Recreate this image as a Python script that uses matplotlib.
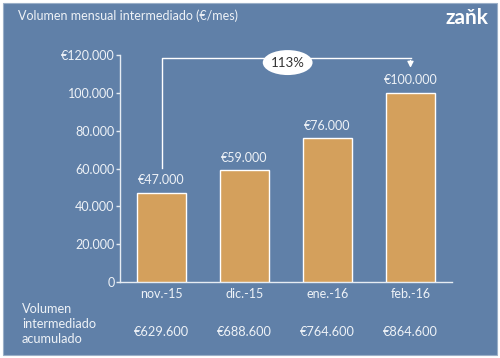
import matplotlib
matplotlib.use("Agg")
import matplotlib.pyplot as plt
from matplotlib.patches import Rectangle, Ellipse

plt.rcParams['font.family'] = ['Lato', 'DejaVu Sans']

months = ["nov.-15", "dic.-15", "ene.-16", "feb.-16"]
monthly = [47000, 59000, 76000, 100000]
monthly_labels = ["€47.000", "€59.000", "€76.000", "€100.000"]
cumulative_labels = ["€629.600", "€688.600", "€764.600", "€864.600"]
yticks = [0, 20000, 40000, 60000, 80000, 100000, 120000]
ytick_labels = ["0", "20.000", "40.000", "60.000", "80.000", "100.000", "€120.000"]
growth_label = "113%"

BG = "#6080A8"
BAR = "#D4A05C"
TXT = "#EEF2F7"

fig = plt.figure(figsize=(5.0, 3.58), dpi=100)
fig.patch.set_facecolor("white")
fig.patches.append(Rectangle((3/500, 3/358), 494/500, 352/358, transform=fig.transFigure,
                             facecolor=BG, edgecolor="#9AAFC8", lw=0.8, zorder=-5))

ax = fig.add_axes([120/500, 1-282/358, 332/500, 227/358])
ax.set_zorder(5)
ax.set_facecolor("none")
x = list(range(len(months)))
ax.bar(x, monthly, width=0.6, color=BAR, edgecolor="white", linewidth=1.0, zorder=3)
ax.set_xlim(-0.5, 3.5)
ax.set_ylim(0, 120000)
ax.set_yticks(yticks)
ax.set_yticklabels(ytick_labels)
ax.set_xticks(x)
ax.set_xticklabels(months)
for s in ["top", "right"]:
    ax.spines[s].set_visible(False)
for s in ["left", "bottom"]:
    ax.spines[s].set_color("#E6ECF3")
    ax.spines[s].set_linewidth(1.0)
ax.tick_params(axis="y", colors="#E6ECF3", labelcolor=TXT, labelsize=9, length=3, width=1, pad=1)
ax.tick_params(axis="x", length=0, labelcolor=TXT, labelsize=9, pad=4)

for xi, v, lab in zip(x, monthly, monthly_labels):
    ax.text(xi, v + 3500, lab, ha="center", va="bottom", color=TXT, fontsize=9)

# growth bracket
yb = 118300
ax.plot([0, 0, 3], [60300, yb, yb], color="white", lw=1.0, clip_on=False, zorder=4)
ax.annotate("", xy=(3, 111800), xytext=(3, yb + 300),
            arrowprops=dict(arrowstyle="-|>,head_length=0.35,head_width=0.18", color="white", lw=1.0),
            annotation_clip=False)
ax.add_patch(Ellipse((1.52, 116000), 0.60, 13200, facecolor="white", edgecolor="none",
                     clip_on=False, zorder=5))
ax.text(1.52, 116000, growth_label, ha="center", va="center", fontsize=9.5, color="#333333",
        zorder=6)

fig.text(18/500, 1-16/358, "Volumen mensual intermediado (€/mes)", ha="left", va="center",
         color=TXT, fontsize=9)
fig.text(488/500, 1-18/358, "zaňk", ha="right", va="center", color="white",
         fontsize=15, fontweight="bold")
fig.text(22/500, 1-324/358, "Volumen\nintermediado\nacumulado", ha="left", va="center",
         color=TXT, fontsize=9.2, linespacing=1.3)
for xi, lab in zip(x, cumulative_labels):
    ax.text(xi, 0, lab, ha="center", va="center", color=TXT, fontsize=9.2,
            transform=ax.get_xaxis_transform() + matplotlib.transforms.ScaledTranslation(0, -50/100, fig.dpi_scale_trans))

fig.savefig("out.png", dpi=100, facecolor=fig.get_facecolor())
